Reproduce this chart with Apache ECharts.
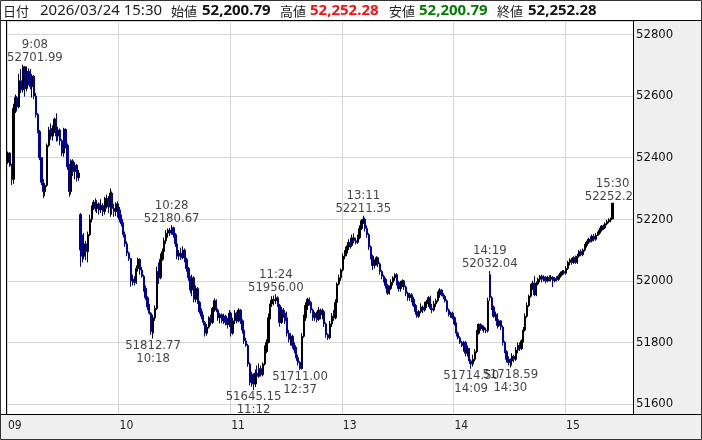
<!DOCTYPE html>
<html><head><meta charset="utf-8">
<script src="https://cdn.jsdelivr.net/npm/echarts@6/dist/echarts.min.js"></script>
<style>html,body{margin:0;padding:0;background:#fff}#c{width:702px;height:440px}</style>
</head><body><div id="c"></div>
<script>
// ---------------- DATA ----------------
const tradeDate = '2026/03/24';
// trading sessions (1-minute bars); the closing auction 15:25-15:29 has no bars
const sessions = [['09:00', '11:29'], ['12:30', '15:24'], ['15:30', '15:30']];
const emptySlotsAfterClose = 11;
const hourTickLabels = ['09', '10', '11', '13', '14', '15'];
// bars: [open, close, low, high]
const bars0900 = [
[52385,52415,52380,52420],[52415,52375,52370,52418],[52375,52330,52311,52380],[52330,52560,52315,52575],
[52555,52595,52545,52605],[52595,52565,52550,52600],[52565,52650,52560,52672],[52650,52620,52610,52688],
[52620,52695,52612,52701.99],[52695,52625,52598,52698],[52625,52680,52615,52696],[52680,52650,52635,52690],
[52650,52630,52622,52688],[52630,52665,52595,52672],[52665,52600,52590,52668],[52600,52540,52530,52610],
[52540,52485,52479,52545],[52485,52400,52392,52490],[52400,52320,52311,52400],[52320,52290,52268,52330],
[52290,52310,52275,52318],[52310,52440,52305,52446],[52440,52490,52435,52500],[52490,52470,52458,52511],
[52470,52495,52455,52505],[52495,52525,52480,52530],[52525,52470,52452,52544],[52470,52490,52455,52500],
[52490,52455,52440,52495],[52455,52415,52405,52460],[52415,52492,52403,52497],[52492,52440,52430,52495],
[52440,52370,52360,52446],[52370,52290,52273,52380],[52290,52390,52280,52395],[52390,52355,52340,52395],
[52355,52375,52330,52385],[52375,52335,52322,52380],[52335,52350,52325,52360],[52215,52100,52046,52220],
[52100,52080,52060,52150],[52080,52120,52070,52155],[52120,52095,52067,52130],[52095,52150,52060,52160],
[52150,52200,52145,52215],[52200,52240,52190,52245],[52240,52255,52230,52262],[52255,52235,52225,52268],
[52235,52250,52220,52262],[52250,52230,52215,52255],[52230,52245,52220,52265],[52245,52225,52210,52252],
[52225,52260,52215,52273],[52260,52268,52235,52280],[52268,52240,52220,52275],[52240,52285,52208,52300],
[52285,52235,52215,52290],[52235,52225,52208,52250],[52225,52250,52210,52255],[52250,52230,52205,52258]
];
const bars1000 = [
[52230,52200,52190,52240],[52200,52185,52176,52215],[52185,52150,52140,52190],[52150,52120,52110,52160],
[52120,52090,52080,52128],[52090,52072,52065,52095],[52072,52000,51981,52075],[52000,52005,51985,52020],
[52005,51995,51985,52015],[51995,52040,51990,52050],[52040,52070,52030,52075],[52070,52035,52020,52073],
[52035,52015,52010,52045],[52015,51975,51965,52020],[51975,51945,51938,51985],[51945,51915,51905,51950],
[51915,51895,51890,51925],[51895,51835,51825,51898],[51830,51880,51812.77,51890],[51880,51910,51870,51920],
[51910,52030,51905,52046],[52030,52010,51990,52060],[52010,52070,52005,52089],[52070,52095,52065,52105],
[52095,52130,52085,52140],[52130,52155,52120,52165],[52155,52165,52140,52170],[52165,52155,52145,52172],
[52155,52172,52150,52180.67],[52172,52150,52140,52176],[52150,52120,52110,52155],[52120,52080,52070,52125],
[52080,52090,52067,52100],[52090,52075,52068,52108],[52075,52100,52070,52112],[52100,52070,52060,52105],
[52070,52040,52030,52075],[52040,52010,52000,52045],[52010,51970,51960,52015],[51970,52010,51950,52020],
[52010,51940,51930,52015],[51940,51975,51930,51985],[51975,51930,51925,51980],[51930,51900,51893,51935],
[51900,51885,51875,51910],[51885,51865,51855,51890],[51865,51830,51819,51870],[51830,51850,51822,51860],
[51850,51880,51845,51885],[51880,51865,51855,51890],[51865,51910,51860,51915],[51910,51935,51900,51943],
[51935,51905,51898,51940],[51905,51880,51870,51910],[51880,51890,51862,51895],[51890,51870,51862,51894],
[51870,51885,51860,51893],[51885,51865,51855,51890],[51865,51858,51845,51880],[51858,51895,51850,51905]
];
const bars1100 = [
[51895,51830,51819,51900],[51830,51870,51825,51880],[51870,51895,51860,51905],[51895,51870,51862,51900],
[51870,51905,51865,51911],[51905,51870,51860,51908],[51870,51840,51829,51875],[51840,51805,51795,51845],
[51805,51790,51786,51815],[51790,51730,51721,51795],[51730,51670,51660,51735],[51670,51695,51656,51705],
[51695,51665,51645.15,51700],[51665,51700,51655,51712],[51700,51690,51680,51725],[51690,51715,51685,51732],
[51715,51695,51689,51725],[51695,51730,51690,51735],[51730,51770,51725,51790],[51770,51800,51765,51810],
[51800,51880,51797,51894],[51880,51925,51875,51938],[51925,51940,51915,51950],[51940,51935,51920,51952],
[51935,51945,51925,51956.00],[51945,51920,51915,51950],[51920,51865,51851,51925],[51865,51905,51860,51915],
[51905,51895,51880,51912],[51895,51870,51860,51905]
];
const bars1230 = [
[51880,51830,51819,51900],[51830,51810,51800,51840],[51810,51820,51790,51830],[51820,51790,51780,51825],
[51790,51775,51765,51800],[51775,51750,51740,51785],[51750,51735,51725,51760],[51735,51715,51711.00,51740],
[51715,51820,51712,51830],[51820,51880,51815,51890],[51880,51920,51870,51930],[51920,51940,51905,51945],
[51940,51930,51920,51946],[51930,51905,51895,51935],[51905,51880,51870,51910],[51880,51895,51870,51900],
[51895,51875,51865,51900],[51875,51905,51870,51915],[51905,51890,51875,51910],[51890,51900,51875,51910],
[51900,51860,51850,51905],[51860,51825,51815,51865],[51825,51815,51808,51830],[51815,51860,51810,51870],
[51860,51885,51850,51895],[51885,51880,51870,51905],[51880,51930,51875,51940],[51930,51990,51925,51995],
[51990,52010,51985,52020],[52010,52035,52000,52040]
];
const bars1300 = [
[52035,52080,52030,52089],[52080,52090,52070,52100],[52090,52110,52080,52115],[52110,52125,52100,52135],
[52125,52115,52105,52140],[52115,52140,52110,52150],[52140,52130,52122,52154],[52130,52125,52118,52140],
[52125,52140,52120,52150],[52140,52170,52135,52180],[52170,52195,52165,52200],[52195,52200,52185,52211.35],
[52200,52170,52160,52205],[52170,52150,52140,52180],[52150,52110,52100,52155],[52110,52080,52070,52115],
[52080,52050,52035,52085],[52050,52060,52040,52070],[52060,52075,52050,52080],[52075,52055,52045,52078],
[52055,52030,52020,52060],[52030,52015,52005,52035],[52015,52005,51995,52020],[52005,51985,51975,52010],
[51985,51960,51954,51990],[51960,51975,51955,51985],[51975,51995,51970,52005],[51995,52010,51985,52015],
[52010,52020,52000,52025],[52020,51995,51985,52025],[51995,51975,51965,52000],[51975,51990,51965,52000],
[51990,52000,51980,52005],[52000,51980,51970,52002],[51980,51960,51950,51985],[51960,51945,51935,51965],
[51945,51955,51935,51960],[51955,51940,51930,51960],[51940,51920,51915,51948],[51920,51900,51890,51925],
[51900,51885,51880,51905],[51885,51900,51880,51905],[51900,51915,51894,51927],[51915,51905,51895,51920],
[51905,51925,51900,51932],[51925,51932,51912,51938],[51932,51945,51915,51950],[51945,51910,51905,51952],
[51910,51905,51895,51925],[51905,51925,51900,51935],[51925,51935,51915,51942],[51935,51955,51930,51965],
[51955,51970,51945,51976],[51970,51955,51950,51972],[51955,51950,51940,51960],[51950,51935,51930,51955],
[51935,51905,51898,51940],[51905,51890,51884,51910],[51890,51895,51880,51900],[51895,51880,51875,51900]
];
const bars1400 = [
[51880,51860,51855,51885],[51860,51830,51819,51865],[51830,51815,51810,51835],[51815,51800,51795,51820],
[51800,51790,51785,51805],[51790,51800,51770,51805],[51800,51765,51755,51805],[51765,51780,51754,51790],
[51780,51740,51730,51782],[51740,51730,51714.50,51745],[51730,51745,51722,51760],[51745,51770,51738,51778],
[51770,51830,51765,51840],[51830,51858,51825,51862],[51858,51845,51838,51862],[51845,51850,51838,51856],
[51850,51840,51832,51855],[51840,51838,51830,51848],[51838,51935,51832,51945],[52020,51945,51935,52032.04],
[51945,51915,51905,51950],[51915,51885,51880,51920],[51885,51890,51870,51900],[51890,51855,51845,51895],
[51855,51870,51850,51875],[51870,51850,51840,51872],[51850,51800,51790,51855],[51800,51770,51765,51805],
[51770,51745,51735,51775],[51745,51735,51725,51755],[51735,51740,51718.59,51748],[51740,51755,51725,51765],
[51755,51745,51735,51760],[51745,51775,51740,51785],[51775,51790,51765,51800],[51790,51780,51772,51800],
[51780,51805,51775,51810],[51805,51840,51800,51850],[51840,51885,51835,51894],[51885,51920,51880,51930],
[51920,51950,51915,51955],[51950,51980,51945,51990],[51980,51992,51970,52000],[51992,51955,51950,52015],
[51955,51990,51950,51998],[51990,52005,51985,52010],[52005,52015,51995,52019],[52015,52005,51995,52020],
[52005,52012,51998,52018],[52012,52000,51992,52015],[52000,52010,51995,52016],[52010,52005,51998,52018],
[52005,52012,51998,52019],[52012,52000,51980,52015],[52000,52008,51995,52012],[52008,52005,51998,52015],
[52005,52015,52000,52020],[52015,52025,52010,52030],[52025,52030,52018,52035],[52030,52025,52020,52035]
];
const bars1500 = [
[52025,52040,52020,52048],[52040,52060,52035,52065],[52060,52068,52050,52073],[52068,52060,52052,52075],
[52060,52075,52055,52080],[52075,52060,52055,52082],[52060,52080,52055,52088],[52080,52095,52075,52100],
[52095,52085,52080,52102],[52085,52100,52080,52105],[52100,52115,52095,52120],[52115,52125,52108,52130],
[52125,52135,52120,52140],[52135,52130,52125,52145],[52130,52145,52125,52150],[52145,52135,52128,52152],
[52135,52148,52130,52155],[52148,52155,52145,52160],[52155,52165,52150,52172],[52165,52178,52160,52181],
[52178,52172,52165,52183],[52172,52185,52168,52190],[52185,52192,52180,52198],[52192,52198,52187,52203],
[52198,52200.79,52190,52205],
[52200.79,52252.28,52200.79,52252.28]
];
// labelled extremes: [time, price, kind]
const annotations = [
['09:08', 52701.99, 'high'], ['10:18', 51812.77, 'low'], ['10:28', 52180.67, 'high'],
['11:12', 51645.15, 'low'], ['11:24', 51956.00, 'high'], ['12:37', 51711.00, 'low'],
['13:11', 52211.35, 'high'], ['14:09', 51714.50, 'low'], ['14:19', 52032.04, 'high'],
['14:30', 51718.59, 'low'], ['15:30', 52252.28, 'high']
];

// ---------------- BUILD ----------------
function expand(a, b) {
  let [h, m] = a.split(':').map(Number);
  const [h2, m2] = b.split(':').map(Number);
  const out = [];
  while (h * 60 + m <= h2 * 60 + m2) {
    out.push(String(h).padStart(2, '0') + ':' + String(m).padStart(2, '0'));
    m++; if (m === 60) { m = 0; h++; }
  }
  return out;
}
const times = sessions.flatMap(s => expand(s[0], s[1]));
const bars = [].concat(bars0900, bars1000, bars1100, bars1230, bars1300, bars1400, bars1500);
const xCats = times.concat(Array.from({length: emptySlotsAfterClose}, (_, i) => '+' + (i + 1)));
const isHour = (i, v) => typeof v === 'string' && v.endsWith(':00') && hourTickLabels.includes(v.slice(0, 2));

const FONT = '"DejaVu Sans Condensed","DejaVu Sans",sans-serif';
const UP = '#000000', DOWN = '#0000a0', GRIDC = '#d6d6d6';
const Y_MIN = 51567.5, Y_MAX = 52843.8;
const G = {left: 7, right: 68, top: 21, bottom: 26};
const W = 702, H = 440;

const fmt = v => v.toLocaleString('en-US', {minimumFractionDigits: 2, maximumFractionDigits: 2});
const last = bars[bars.length - 1];
const lastTime = times[times.length - 1];

function annItems(offsets) {
  return annotations.map((a, k) => {
    const ci = times.indexOf(a[0]);
    const t = a[0].replace(/^0/, '');
    const v = a[1].toFixed(2);
    return {
      value: [ci, a[1]],
      label: {
        position: a[2] === 'high' ? 'top' : 'bottom',
        formatter: a[2] === 'high' ? (t + '\n' + v) : (v + '\n' + t),
        offset: offsets ? [offsets[k], 0] : [0, 0]
      }
    };
  });
}

const headerFont = {jp: '"Noto Sans CJK JP",sans-serif', lat: '"Noto Sans","Noto Sans CJK JP",sans-serif'};
function hText(x, text, opt) {
  return {type: 'text', x: x, y: 11, z: 130, style: Object.assign({
    text: text, fill: '#222', verticalAlign: 'middle', align: 'left',
    fontSize: 13, fontFamily: headerFont.jp
  }, opt || {})};
}

function buildOption(offsets) {
  return {
    animation: false,
    backgroundColor: '#ffffff',
    grid: {left: G.left, right: G.right, top: G.top, bottom: G.bottom, show: false},
    xAxis: [
      {type: 'category', data: xCats, boundaryGap: true,
       axisLine: {show: false}, axisTick: {show: false}, axisLabel: {show: false},
       splitLine: {show: true, interval: isHour, lineStyle: {color: GRIDC, width: 1}}},
      {type: 'category', data: xCats, boundaryGap: true, position: 'bottom', z: 120,
       axisLine: {show: false}, axisTick: {show: false}, splitLine: {show: false},
       axisLabel: {show: true, interval: isHour, formatter: v => v.slice(0, 2), align: 'left',
                   margin: 6, fontSize: 12, fontFamily: FONT, color: '#222'}}
    ],
    yAxis: [
      {type: 'value', position: 'right', min: Y_MIN, max: Y_MAX, splitNumber: 6,
       axisLine: {show: false}, axisTick: {show: false}, axisLabel: {show: false},
       splitLine: {show: true, lineStyle: {color: GRIDC, width: 1}}},
      {type: 'value', position: 'right', min: Y_MIN, max: Y_MAX, splitNumber: 6, z: 120,
       axisLine: {show: false}, axisTick: {show: false}, splitLine: {show: false},
       axisLabel: {show: true, margin: 2, fontSize: 13, fontFamily: FONT, color: '#111',
                   formatter: v => String(v), showMinLabel: false, showMaxLabel: false}}
    ],
    series: [
      {type: 'candlestick', xAxisIndex: 0, yAxisIndex: 0, data: bars, barWidth: 1.8,
       itemStyle: {color: UP, color0: DOWN, borderColor: UP, borderColor0: DOWN, borderWidth: 1}},
      {type: 'scatter', xAxisIndex: 0, yAxisIndex: 0, symbolSize: 1, z: 4,
       itemStyle: {color: 'rgba(0,0,0,0)'}, data: annItems(offsets),
       label: {show: true, fontSize: 13, fontFamily: FONT, color: '#111', lineHeight: 13, distance: 0}}
    ],
    graphic: [
      // panels
      {type: 'rect', z: 100, shape: {x: W - G.right, y: G.top, width: G.right, height: H - G.top}, style: {fill: '#efefef'}},
      {type: 'rect', z: 100, shape: {x: 0, y: H - G.bottom, width: W, height: G.bottom}, style: {fill: '#efefef'}},
      {type: 'rect', z: 100, shape: {x: 0, y: 0, width: W, height: G.top}, style: {fill: '#ffffff'}},
      {type: 'rect', z: 100, shape: {x: 0, y: G.top, width: G.left - 1, height: H - G.top - G.bottom}, style: {fill: '#ffffff'}},
      // frame lines
      {type: 'line', z: 105, shape: {x1: 0, y1: G.top - 0.5, x2: W, y2: G.top - 0.5}, style: {stroke: '#000', lineWidth: 1}},
      {type: 'line', z: 105, shape: {x1: G.left - 0.5, y1: G.top, x2: G.left - 0.5, y2: H - G.bottom}, style: {stroke: '#000', lineWidth: 1}},
      {type: 'line', z: 105, shape: {x1: W - G.right - 0.5, y1: G.top, x2: W - G.right - 0.5, y2: H - G.bottom}, style: {stroke: '#000', lineWidth: 1}},
      {type: 'line', z: 105, shape: {x1: 0, y1: H - G.bottom + 0.5, x2: W, y2: H - G.bottom + 0.5}, style: {stroke: '#000', lineWidth: 1}},
      {type: 'rect', z: 106, shape: {x: 0.5, y: 0.5, width: W - 1, height: H - 1}, style: {fill: 'none', stroke: '#333', lineWidth: 1}},
      // header
      hText(3, '日付'),
      hText(40, tradeDate + ' ' + lastTime, {fontSize: 15, fontFamily: headerFont.lat}),
      hText(171, '始値'),
      hText(202, fmt(last[0]), {fontSize: 15, fontWeight: 'bold', fontFamily: headerFont.lat, fill: '#111'}),
      hText(280, '高値'),
      hText(310, fmt(last[3]), {fontSize: 15, fontWeight: 'bold', fontFamily: headerFont.lat, fill: '#ff1010'}),
      hText(389, '安値'),
      hText(419, fmt(last[2]), {fontSize: 15, fontWeight: 'bold', fontFamily: headerFont.lat, fill: '#008000'}),
      hText(497, '終値'),
      hText(528, fmt(last[1]), {fontSize: 15, fontWeight: 'bold', fontFamily: headerFont.lat, fill: '#111'})
    ]
  };
}

const chart = echarts.init(document.getElementById('c'), null, {renderer: 'canvas'});
chart.setOption(buildOption(null));

// keep annotation labels inside the left edge of the plot
const ctx = document.createElement('canvas').getContext('2d');
ctx.font = '13px ' + FONT;
const offsets = annotations.map(a => {
  const ci = times.indexOf(a[0]);
  const px = chart.convertToPixel({xAxisIndex: 0}, ci);
  const lines = a[2] === 'high' ? [a[0].replace(/^0/, ''), a[1].toFixed(2)] : [a[1].toFixed(2), a[0].replace(/^0/, '')];
  const w = Math.max.apply(null, lines.map(s => ctx.measureText(s).width));
  const left = px - w / 2;
  return left < G.left ? (G.left - left) : 0;
});
chart.setOption(buildOption(offsets), true);
</script>
</body></html>
